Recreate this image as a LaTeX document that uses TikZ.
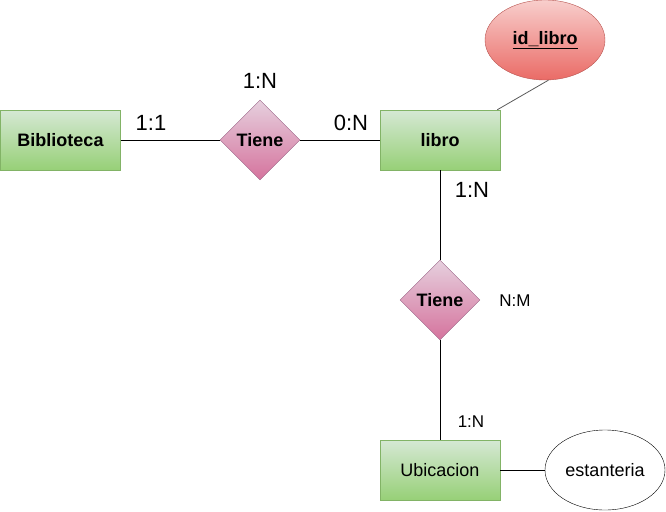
\documentclass[tikz,border=0pt]{standalone}
\usepackage{fontspec}
\setmainfont{Liberation Sans}
\usetikzlibrary{shapes.geometric,calc}
\definecolor{gtop}{HTML}{D5E8D4}
\definecolor{gbot}{HTML}{97D077}
\definecolor{gbrd}{HTML}{82B366}
\definecolor{ptop}{HTML}{E6D0DE}
\definecolor{pbot}{HTML}{D5739D}
\definecolor{pbrd}{HTML}{996185}
\definecolor{rtop}{HTML}{F8CECC}
\definecolor{rbot}{HTML}{EA6B66}
\definecolor{rbrd}{HTML}{B85450}
\tikzset{
  entity/.style={rectangle, draw=gbrd, top color=gtop, bottom color=gbot, minimum width=120pt, minimum height=60pt, inner sep=0pt, font=\fontsize{18}{21}\selectfont},
  relation/.style={diamond, draw=pbrd, top color=ptop, bottom color=pbot, minimum width=80pt, minimum height=80pt, inner sep=0pt, font=\fontsize{18}{21}\selectfont\bfseries},
  keyattr/.style={ellipse, draw=rbrd, top color=rtop, bottom color=rbot, minimum width=120pt, minimum height=80pt, inner sep=0pt, font=\fontsize{18}{21}\selectfont\bfseries},
  attr/.style={ellipse, draw=black, fill=white, minimum width=120pt, minimum height=80pt, inner sep=0pt, font=\fontsize{18}{21}\selectfont},
  biglab/.style={font=\fontsize{22}{25}\selectfont, inner sep=0pt},
  smalllab/.style={font=\fontsize{17}{20}\selectfont, inner sep=0pt},
  conn/.style={draw=black, line width=0.8pt},
}
\begin{document}
\begin{tikzpicture}[x=1pt,y=-1pt]
\useasboundingbox (0,0) rectangle (666,511);
\node[entity, font=\fontsize{18}{21}\selectfont\bfseries] (bib) at (60.5,140) {Biblioteca};
\node[relation] (rel1) at (260,140) {Tiene};
\node[entity, font=\fontsize{18}{21}\selectfont\bfseries] (libro) at (440,140) {libro};
\node[keyattr] (idl) at (545,40) {\underline{id\_libro}};
\node[relation] (rel2) at (440,300) {Tiene};
\node[entity] (ubi) at (440,470) {Ubicacion};
\node[attr] (est) at (605,470) {estanteria};

\draw[conn] (bib.east) -- (rel1.west);
\draw[conn] (rel1.east) -- (libro.west);
\draw[conn, draw=black!65] (idl.-85) -- ($(libro.north east)+(-3,0)$);
\draw[conn] (libro.south) -- (rel2.north);
\draw[conn] (rel2.south) -- (ubi.north);
\draw[conn] (ubi.east) -- (est.west);

\node[biglab] (l1) at (260,81) {1:N};
\node[biglab] (l2) at (151,123) {1:1};
\node[biglab] (l3) at (351,123) {0:N};
\node[biglab] (l4) at (472,190) {1:N};
\node[smalllab] (l5) at (515,301) {N:M};
\node[smalllab] (l6) at (471,422) {1:N};
\end{tikzpicture}
\end{document}
